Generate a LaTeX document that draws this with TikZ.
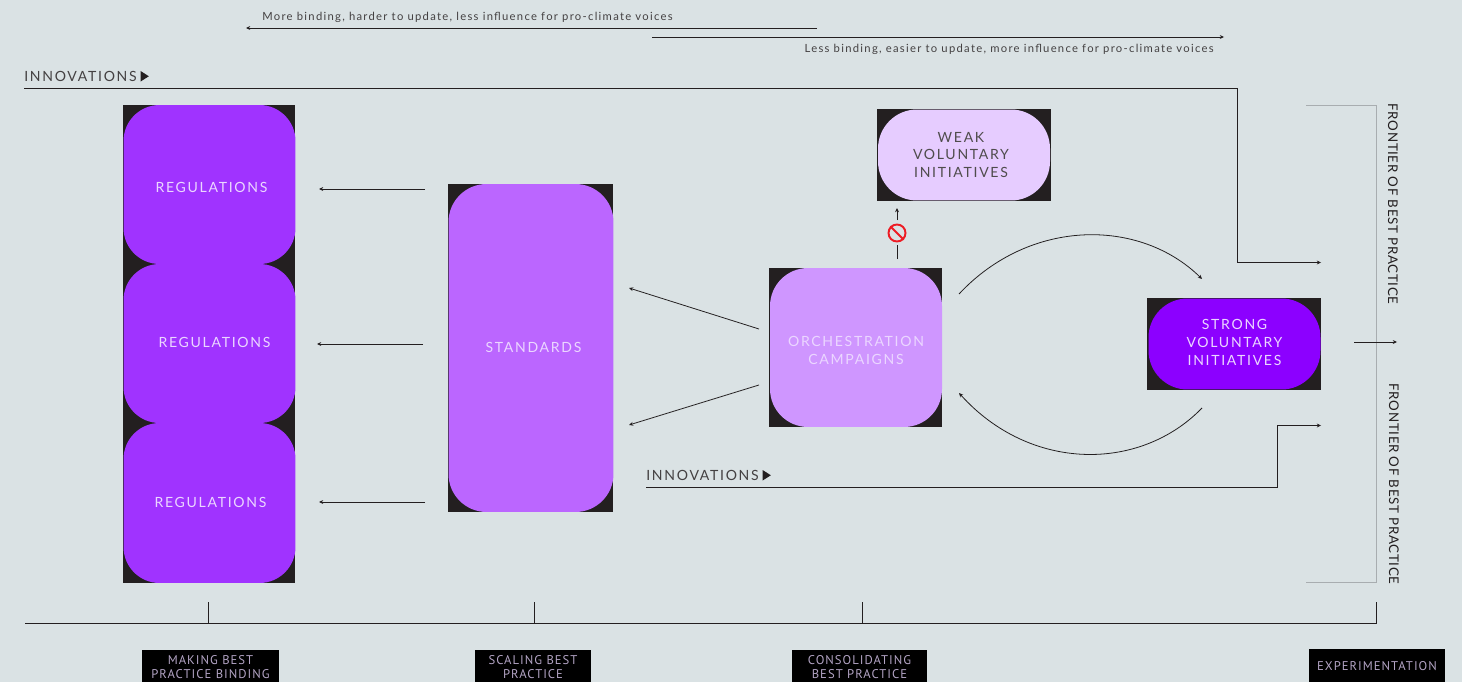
\documentclass[tikz,border=0pt]{standalone}
\usepackage{fontspec}
\setmainfont{Lato}
\newfontfamily\capsfont[LetterSpace=12]{Lato}
\newfontfamily\sidefont[LetterSpace=5]{Lato}
\newfontfamily\smallfont[LetterSpace=11.5]{Lato}
\newfontfamily\tagfont[LetterSpace=8]{PT Sans}
\usetikzlibrary{arrows.meta}
\definecolor{paper}{HTML}{DAE2E4}
\definecolor{ink}{HTML}{231F20}
\definecolor{regpurple}{HTML}{A033FF}
\definecolor{stdpurple}{HTML}{BB66FF}
\definecolor{orchpurple}{HTML}{CF96FF}
\definecolor{weakpurple}{HTML}{E6CCFF}
\definecolor{strongpurple}{HTML}{8C00FF}
\definecolor{paletext}{HTML}{EBD6FF}
\definecolor{taggrey}{HTML}{B3A4C4}
\definecolor{bracket}{HTML}{A8ADB0}
\definecolor{stopred}{HTML}{ED1C24}
\newcommand{\playmark}{\hspace{2.2pt}\raisebox{.2pt}{\tikz[x=1pt,y=1pt]\fill[ink] (0,0) -- (0,6) -- (4.7,3) -- cycle;}}
\tikzset{
  backbox/.style={fill=ink,inner sep=0,outer sep=0},
  softbox/.style={inner sep=0,outer sep=0},
  boxtext/.style={inner sep=0,align=center,font=\capsfont\fontsize{8}{10}\selectfont},
  plain/.style={inner sep=0,text=ink!85,font=\capsfont\fontsize{8}{10}\selectfont},
  sidetext/.style={inner sep=0,text=ink,rotate=-90,font=\sidefont\fontsize{7.6}{10}\selectfont},
  note/.style={inner sep=0,text=ink!85,font=\smallfont\fontsize{6.4}{8}\selectfont},
  tagbox/.style={fill=black,inner sep=0,outer sep=0,text=taggrey,align=center,
    font=\tagfont\fontsize{7.2}{8}\selectfont},
  conn/.style={draw=ink,line width=.45pt},
  arr/.style={conn,-{Stealth[length=2.4pt,width=2.2pt]}},
}
\begin{document}
\begin{tikzpicture}[x=.02cm,y=-.02cm]
  \useasboundingbox (0,0) rectangle (1462,682);
  \fill[paper] (0,0) rectangle (1462,682);
  % regulations column
  \node[backbox,minimum width=3.46cm,minimum height=3.18cm] (reg1bg) at (209,184.5) {};
  \node[backbox,minimum width=3.46cm,minimum height=3.18cm] (reg2bg) at (209,343.5) {};
  \node[backbox,minimum width=3.46cm,minimum height=3.20cm] (reg3bg) at (209,503) {};
  \node[softbox,fill=regpurple,rounded corners=.72cm,minimum width=3.44cm,minimum height=3.18cm] (reg1) at (209.5,184.5) {};
  \node[softbox,fill=regpurple,rounded corners=.72cm,minimum width=3.44cm,minimum height=3.18cm] (reg2) at (209.5,343.5) {};
  \node[softbox,fill=regpurple,rounded corners=.72cm,minimum width=3.44cm,minimum height=3.20cm] (reg3) at (209.5,503) {};
  \node[boxtext,text=paletext] (reg1txt) at (211.5,187.5) {REGULATIONS};
  \node[boxtext,text=paletext] (reg2txt) at (214.5,342) {REGULATIONS};
  \node[boxtext,text=paletext] (reg3txt) at (210.5,502) {REGULATIONS};
  % the other boxes
  \node[backbox,minimum width=3.32cm,minimum height=6.56cm] (stdbg) at (530.5,348) {};
  \node[softbox,fill=stdpurple,rounded corners=.76cm,minimum width=3.30cm,minimum height=6.56cm] (std) at (531,348) {};
  \node[boxtext,text=paletext] (stdtxt) at (533.5,347.5) {STANDARDS};
  \node[backbox,minimum width=3.46cm,minimum height=3.18cm] (orchbg) at (855.5,347.5) {};
  \node[softbox,fill=orchpurple,rounded corners=.76cm,minimum width=3.44cm,minimum height=3.18cm] (orch) at (856,347.5) {};
  \node[boxtext,text=paletext] (orchtxt) at (856,350.5) {ORCHESTRATION\\CAMPAIGNS};
  \node[backbox,minimum width=3.48cm,minimum height=1.84cm] (weakbg) at (964,155) {};
  \node[softbox,fill=weakpurple,rounded corners=.78cm,minimum width=3.44cm,minimum height=1.82cm] (weak) at (964,155) {};
  \node[boxtext,text=ink!80] (weaktxt) at (961,155) {WEAK\\VOLUNTARY\\INITIATIVES};
  \node[backbox,minimum width=3.48cm,minimum height=1.84cm] (strongbg) at (1234,344) {};
  \node[softbox,fill=strongpurple,rounded corners=.78cm,minimum width=3.44cm,minimum height=1.82cm] (strong) at (1234.5,344) {};
  \node[boxtext,text=paletext] (strongtxt) at (1234.5,342.5) {STRONG\\VOLUNTARY\\INITIATIVES};
  % arrows between the boxes
  \coordinate (r1a) at (425,189);
  \coordinate (r1b) at (319,189);
  \coordinate (r2a) at (423,344);
  \coordinate (r2b) at (317,344);
  \coordinate (r3a) at (425,502);
  \coordinate (r3b) at (319,502);
  \draw[arr] (r1a) -- (r1b);
  \draw[arr] (r2a) -- (r2b);
  \draw[arr] (r3a) -- (r3b);
  \coordinate (s1a) at (759,329);
  \coordinate (s1b) at (629,288);
  \coordinate (s2a) at (759,385);
  \coordinate (s2b) at (629,425);
  \draw[arr] (s1a) -- (s1b);
  \draw[arr] (s2a) -- (s2b);
  \coordinate (loop1) at (959,294);
  \coordinate (loop2) at (1202,279);
  \coordinate (loop3) at (1202,408);
  \coordinate (loop4) at (959,393);
  \draw[arr] (loop1) .. controls (1030,218) and (1140,218) .. (loop2);
  \draw[arr] (loop3) .. controls (1140,472) and (1030,472) .. (loop4);
  % blocked way up to the weak initiatives
  \node[circle,draw=stopred,line width=1.1pt,minimum size=.34cm,inner sep=0] (stop) at (897,233) {};
  \draw[stopred,line width=1.1pt] (stop.135) -- (stop.-45);
  \coordinate (up1) at (897,259);
  \coordinate (up2) at (897,245);
  \coordinate (up3) at (897,220);
  \coordinate (up4) at (897,208);
  \draw[conn] (up1) -- (up2);
  \draw[arr] (up3) -- (up4);
  % innovations
  \node[plain,anchor=west] (innov1) at (24,76.5) {INNOVATIONS\playmark};
  \coordinate (in1a) at (24,88.5);
  \coordinate (in1b) at (1321,262.5);
  \draw[arr] (in1a) -- (1237,88.5) -- (1237,262.5) -- (in1b);
  \node[plain,anchor=west] (innov2) at (646,475.5) {INNOVATIONS\playmark};
  \coordinate (in2a) at (646,487.5);
  \coordinate (in2b) at (1321,425.5);
  \draw[arr] (in2a) -- (1277,487.5) -- (1277,425.5) -- (in2b);
  % top notes
  \node[note,anchor=west] (note1) at (262,17) {More binding, harder to update, less influence for pro-climate voices};
  \node[note,anchor=east] (note2) at (1214,49) {Less binding, easier to update, more influence for pro-climate voices};
  \coordinate (n1a) at (817,28);
  \coordinate (n1b) at (246,28);
  \coordinate (n2a) at (652,37);
  \coordinate (n2b) at (1224,37);
  \draw[arr] (n1a) -- (n1b);
  \draw[arr] (n2a) -- (n2b);
  % frontier bracket
  \draw[bracket,line width=.45pt] (1306,105.5) -- (1376.5,105.5) -- (1376.5,582.5) -- (1306,582.5);
  \coordinate (fr1) at (1354,342);
  \coordinate (fr2) at (1397,342);
  \draw[arr] (fr1) -- (fr2);
  \node[sidetext] (front1) at (1393,204) {FRONTIER OF BEST PRACTICE};
  \node[sidetext] (front2) at (1394,484) {FRONTIER OF BEST PRACTICE};
  % time line with its stages
  \coordinate (tl0) at (25,623.5);
  \coordinate (tl1) at (208.5,602);
  \coordinate (tl2) at (534.5,602);
  \coordinate (tl3) at (862.5,602);
  \coordinate (tl4) at (1376,602);
  \draw[conn] (tl0) -- (1376,623.5) -- (tl4);
  \draw[conn] (tl1) -- ++(0,21.5);
  \draw[conn] (tl2) -- ++(0,21.5);
  \draw[conn] (tl3) -- ++(0,21.5);
  \node[tagbox,minimum width=2.74cm,minimum height=.72cm] (tag1) at (210.5,667.5) {MAKING BEST\\PRACTICE BINDING};
  \node[tagbox,minimum width=2.32cm,minimum height=.72cm] (tag2) at (533,667.5) {SCALING BEST\\PRACTICE};
  \node[tagbox,minimum width=2.70cm,minimum height=.72cm] (tag3) at (859.5,667.5) {CONSOLIDATING\\BEST PRACTICE};
  \node[tagbox,minimum width=2.72cm,minimum height=.70cm] (tag4) at (1377,666.5) {EXPERIMENTATION};
\end{tikzpicture}
\end{document}
